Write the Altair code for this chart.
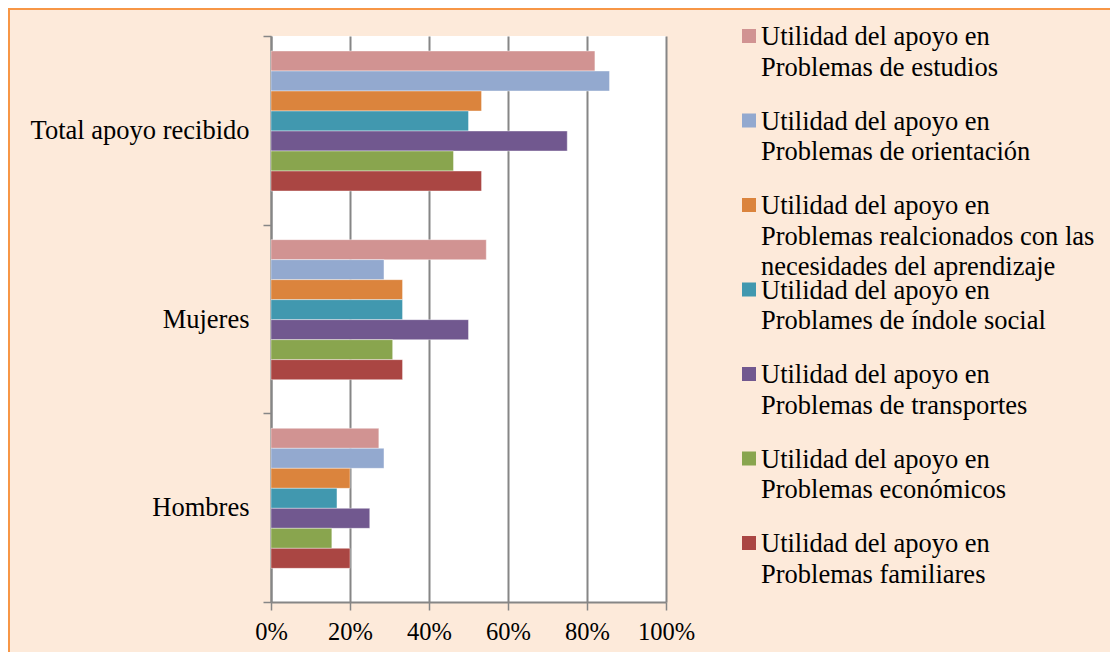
import altair as alt
import pandas as pd

categorias = ["Total apoyo recibido", "Mujeres", "Hombres"]

series = [
    "Utilidad del apoyo en\nProblemas de estudios",
    "Utilidad del apoyo en\nProblemas de orientación",
    "Utilidad del apoyo en\nProblemas realcionados con las\nnecesidades del aprendizaje",
    "Utilidad del apoyo en\nProblames de índole social",
    "Utilidad del apoyo en\nProblemas de transportes",
    "Utilidad del apoyo en\nProblemas económicos",
    "Utilidad del apoyo en\nProblemas familiares",
]
colores = ["#D19392", "#93A9CF", "#DB843D", "#4198AF", "#71588F", "#89A54E", "#AA4643"]

# values per category (Total, Mujeres, Hombres)
estudios = [0.820, 0.545, 0.273]
orientacion = [0.857, 0.286, 0.286]
aprendizaje = [0.533, 0.333, 0.200]
social = [0.500, 0.333, 0.167]
transportes = [0.750, 0.500, 0.250]
economicos = [0.462, 0.308, 0.154]
familiares = [0.533, 0.333, 0.200]

valores = [estudios, orientacion, aprendizaje, social, transportes, economicos, familiares]
ticks_x = [0, 0.2, 0.4, 0.6, 0.8, 1.0]

rows = []
for s, vals in zip(series, valores):
    for c, v in zip(categorias, vals):
        rows.append({"categoria": c, "serie": s, "valor": v})
df = pd.DataFrame(rows)
ley_df = pd.DataFrame({"serie": series, "idx": list(range(len(series)))})

GRAY = "#868686"
FONT = "'Times New Roman', 'Liberation Serif', Times, serif"

color_enc = alt.Color("serie:N", sort=series, scale=alt.Scale(domain=series, range=colores), legend=None)

bars = alt.Chart(df).mark_bar(stroke="white", strokeWidth=0.8, strokeOpacity=0.5).encode(
    x=alt.X(
        "valor:Q",
        scale=alt.Scale(domain=[0, 1], nice=False, zero=True),
        axis=alt.Axis(
            title=None, format="%", values=ticks_x, grid=True, gridColor=GRAY, gridWidth=2,
            tickSize=8, tickColor=GRAY, tickWidth=1.5, domainColor=GRAY, domainWidth=2,
            labelFont=FONT, labelFontSize=24.5, labelColor="black", labelPadding=10,
            labelOverlap=False, labelFlush=False, labelBound=False,
        ),
    ),
    y=alt.Y(
        "categoria:N",
        sort=categorias,
        scale=alt.Scale(paddingInner=0, paddingOuter=0),
        axis=alt.Axis(
            title=None, tickBand="extent", grid=False, tickSize=8, tickColor=GRAY, tickWidth=1.5,
            domainColor=GRAY, domainWidth=2, labelFont=FONT, labelFontSize=26.5,
            labelColor="black", labelPadding=14, labelLimit=400, labelOverlap=False,
        ),
    ),
    yOffset=alt.YOffset("serie:N", sort=series,
                        scale=alt.Scale(paddingInner=0, paddingOuter=0, range=[15, 155])),
    color=color_enc,
)

leg_y = alt.Y("idx:Q", scale=alt.Scale(domain=[0, 6], range=[0, 507]), axis=None)

leg_sq = alt.Chart(ley_df).mark_square(size=196, opacity=1).encode(
    x=alt.value(478), y=leg_y, color=color_enc
)
leg_tx = alt.Chart(ley_df).transform_calculate(
    lineas="split(datum.serie, '\\n')"
).mark_text(
    align="left", baseline="alphabetic", dy=9, fontSize=26.5, font=FONT,
    lineHeight=30.5, color="black"
).encode(x=alt.value(490), y=leg_y, text="lineas:N")

borde = alt.Chart(pd.DataFrame({"a": [0]})).mark_rect(
    fillOpacity=0, stroke="#F79646", strokeWidth=2
).encode(x=alt.value(-262), x2=alt.value(840), y=alt.value(-27), y2=alt.value(640))

chart = alt.layer(borde, bars, leg_sq, leg_tx).resolve_scale(y="independent").properties(
    width=395, height=566,
    autosize=alt.AutoSizeParams(type="none"),
    padding={"left": 263, "top": 28, "right": 444, "bottom": 50},
).configure(background="#FDEADA").configure_view(strokeWidth=0, fill="white")

chart.save("out.html", embed_options={"renderer": "svg", "actions": False})
